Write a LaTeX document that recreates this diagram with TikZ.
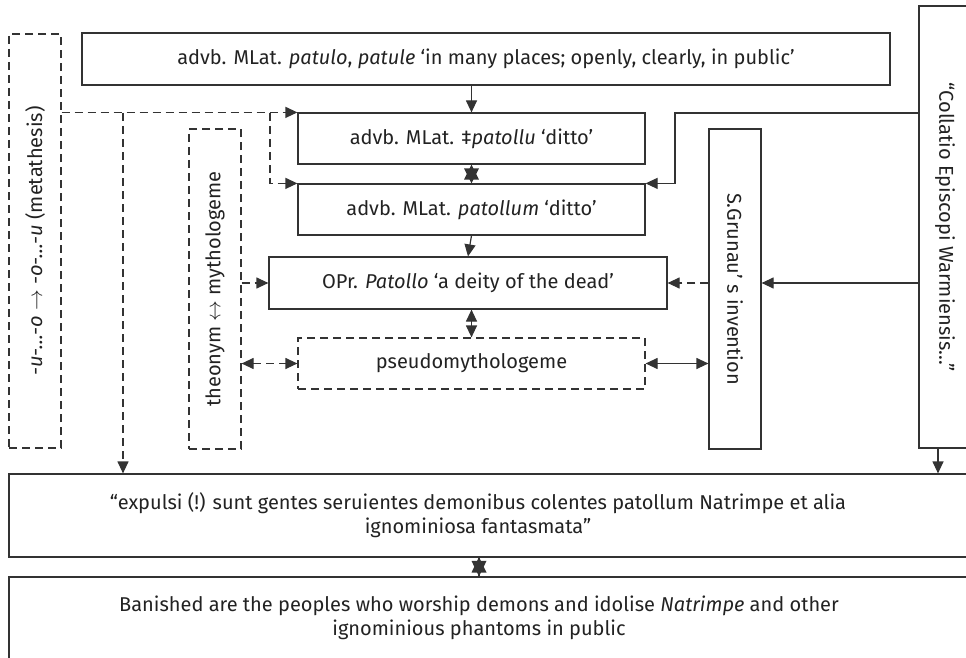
\documentclass[tikz,border=0pt]{standalone}
\usepackage{fontspec}
\setmainfont{Fira Sans}
\usetikzlibrary{arrows.meta}
\definecolor{ln}{HTML}{333333}
\definecolor{tx}{HTML}{222222}
\tikzset{
  box/.style={draw=ln, line width=1.2pt, rectangle, inner sep=0pt, text=tx, font=\fontsize{20}{24}\selectfont, align=center},
  dbox/.style={box, dash pattern=on 8pt off 5pt},
  conn/.style={draw=ln, line width=1.2pt},
  dconn/.style={conn, dash pattern=on 8pt off 5pt},
  tip/.style={-{Triangle[length=12pt,width=11pt]}},
  tips/.style={{Triangle[length=12pt,width=11pt]}-{Triangle[length=12pt,width=11pt]}},
  starhead/.style={fill=ln},
  txt/.style={text=tx, font=\fontsize{20}{24}\selectfont, align=center, inner sep=0pt}
}
\begin{document}
\begin{tikzpicture}[x=1pt,y=-1pt]
\useasboundingbox (0,0) rectangle (966,658);
\clip (0,0) rectangle (966,658);
% boxes
\node[box, line width=2.6pt, minimum width=808pt, minimum height=52pt] (top) at (486,59)
  {advb. MLat. \textit{patulo}, \textit{patule} ‘in many places; openly, clearly, in public’};
\node[box, minimum width=347pt, minimum height=51pt] (b2) at (471.5,138.5)
  {advb. MLat. ‡\textit{patollu} ‘ditto’};
\node[box, minimum width=347pt, minimum height=51pt] (b3) at (471.5,209.5)
  {advb. MLat. \textit{patollum} ‘ditto’};
\node[box, minimum width=398pt, minimum height=52pt] (b4) at (468,283)
  {OPr. \textit{Patollo} ‘a deity of the dead’};
\node[dbox, minimum width=347pt, minimum height=51pt] (b5) at (471.5,363.5)
  {pseudomythologeme};
\node[dbox, minimum width=52pt, minimum height=414pt] (meta) at (35,241)
  {\rotatebox{90}{\textit{-u-…-o} $\rightarrow$ \textit{-o-…-u} (metathesis)}};
\node[dbox, minimum width=52pt, minimum height=320pt] (theo) at (215,289)
  {\rotatebox{90}{theonym $\leftrightarrow$ mythologeme}};
\node[box, minimum width=52pt, minimum height=320pt] (gru) at (735,289)
  {\rotatebox{-90}{S.Grunau’ s invention}};
\node[box, minimum width=52pt, minimum height=442pt] (col) at (945,227)
  {\rotatebox{-90}{“Collatio Episcopi Warmiensis…”}};
\node[box, minimum width=971pt, minimum height=83pt] (lat) at (494.5,515.5) {};
\node[txt] (latt) at (478,515.5)
  {“expulsi (!) sunt gentes seruientes demonibus colentes patollum Natrimpe et alia\\ ignominiosa fantasmata”};
\node[box, minimum width=971pt, minimum height=93pt] (eng) at (494.5,623.5) {};
\node[txt] (engt) at (479,618)
  {Banished are the peoples who worship demons and idolise \textit{Natrimpe} and other\\ ignominious phantoms in public};
% junctions
\coordinate (j1) at (270,113);
\coordinate (j2) at (123,113);
\coordinate (j3) at (675,113);
\coordinate (c1) at (938,448);
\coordinate (c2) at (479,557);
% connectors
\draw[conn, tip] (b2.north |- top.south) -- (b2.north);
\draw[conn] (b2.south) -- (b3.north);
\fill[starhead] (b2.south) -- ++(-7.5,15) -- ++(15,0) -- cycle;
\fill[starhead] (b3.north) -- ++(-7.5,-15) -- ++(15,0) -- cycle;
\draw[conn, tip] (b3.south) -- (b4.north);
\draw[conn, tips] (b5.north |- b4.south) -- (b5.north);
\draw[dconn, tip] (meta.east |- b2.north west) -- (b2.north west);
\draw[dconn, tip] (j1) |- (b3.north west);
\draw[dconn, tip] (j2) -- (j2 |- lat.north);
\draw[dconn, tip] (theo.east |- b4.west) -- (b4.west);
\draw[dconn, tips] (theo.east |- b5.west) -- (b5.west);
\draw[dconn, tip] (gru.west |- b4.east) -- (b4.east);
\draw[conn, tips] (b5.east) -- (gru.west |- b5.east);
\draw[conn, tip] (col.west |- b4.east) -- (gru.east |- b4.east);
\draw[conn, tip] (col.west |- j3) -- (j3) |- (b3.north east);
\draw[conn, tip] (c1) -- (c1 |- lat.north);
\draw[conn] (c2) -- (c2 |- eng.north);
\fill[starhead] (c2) -- ++(-7.5,15.5) -- ++(15,0) -- cycle;
\fill[starhead] (c2 |- eng.north) -- ++(-7.5,-15.5) -- ++(15,0) -- cycle;
\end{tikzpicture}
\end{document}
